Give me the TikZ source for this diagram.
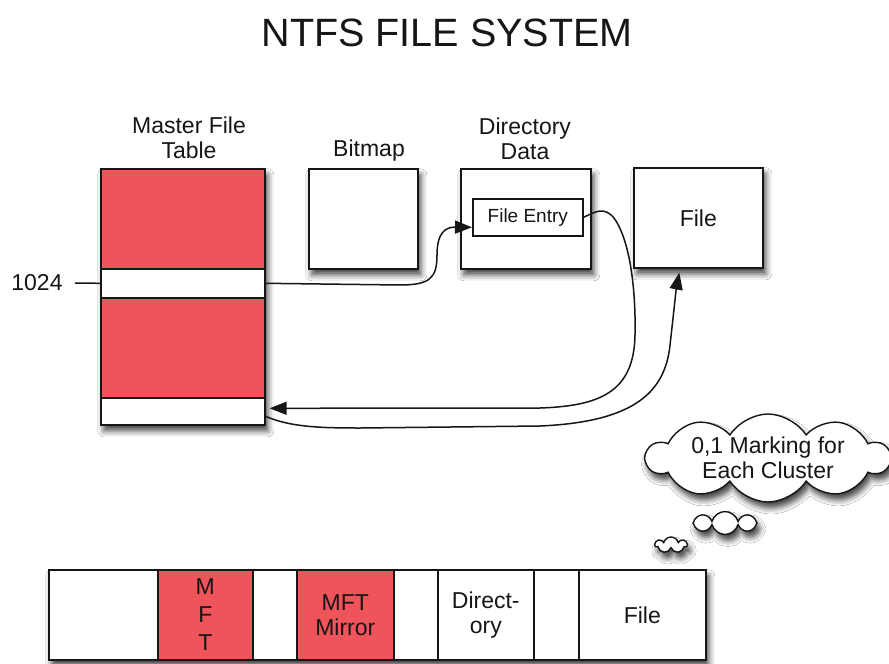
\documentclass[tikz,border=0pt]{standalone}
\usepackage{fontspec}
\setmainfont{Liberation Sans}
\usetikzlibrary{arrows.meta,shapes.symbols,shadows.blur,calc}
\definecolor{mftred}{RGB}{239,84,90}
\definecolor{ink}{RGB}{22,22,22}

\begin{document}
\begin{tikzpicture}[x=1pt,y=-1pt,
  every node/.style={font=\fontsize{23}{25}\selectfont, text=ink},
  box/.style={draw=ink, line width=1.6pt, fill=white, inner sep=0pt, anchor=north west},
  softshadow/.style={blur shadow={shadow xshift=3pt, shadow yshift=-6pt,
      shadow blur radius=6pt, shadow opacity=75}},
  heading/.style={align=center, inner sep=0pt},
  link/.style={draw=ink, line width=1.5pt, -{Triangle[length=17pt,width=13pt]}},
  puff/.style={cloud, draw=ink, line width=1.4pt, fill=white, cloud ignores aspect,
      inner sep=0pt, softshadow}
]
\useasboundingbox[fill=white] (0,0) rectangle (889,664);

% title
\node[font=\fontsize{39.5}{42}\selectfont, inner sep=0pt] (title) at (447,33) {NTFS FILE SYSTEM};

% master file table with its two highlighted records
\node[box, softshadow, fill=mftred, minimum width=164pt, minimum height=256pt] (mft) at (100,168) {};
\node[box, minimum width=164pt, minimum height=29pt] (row1024) at (100,268) {};
\node[box, minimum width=164pt, minimum height=27pt] (rowlast) at (100,397) {};
\node[heading] (mftlbl) at (189,138) {Master File\\Table};
\node[inner sep=0pt] (num) at (37,283) {1024};
\coordinate (tick) at (75,283);
\draw[draw=ink, line width=1.5pt] (tick) -- (row1024.west);

% bitmap
\node[box, softshadow, minimum width=109pt, minimum height=100pt] (bitmap) at (308,168) {};
\node[heading] (bmlbl) at (369,151) {Bitmap};

% directory data with its file entry
\node[box, softshadow, minimum width=130pt, minimum height=100pt] (dir) at (460,168) {};
\node[heading] (dirlbl) at (525,139) {Directory\\Data};
\node[box, minimum width=110pt, minimum height=37pt, font=\fontsize{19}{21}\selectfont] (entry) at (472,198) {File Entry};

% file
\node[box, softshadow, minimum width=129pt, minimum height=100pt] (file) at (633,167) {File};
\coordinate (filein) at ($(file.south)+(-19,4)$);

% connectors
\draw[link] (row1024.east) -- (400,285)
  .. controls (430,285) and (437,278) .. (437,255)
  .. controls (437,232) and (446,227) .. ($(entry.west)+(0,10)$);
\draw[link] (entry.east) .. controls (595,212) and (604,206) .. (614,218)
  .. controls (630,240) and (636,290) .. (635,335)
  .. controls (634,392) and (600,406) .. (540,408) -- ($(rowlast.east)+(4,-3)$);
\draw[link] ($(rowlast.east)+(0,5)$) .. controls (290,427) and (320,428) .. (360,428)
  -- (540,426) .. controls (630,422) and (665,395) .. (670,345)
  .. controls (674,310) and (676,290) .. (filein);

% thought cloud
\node[puff, cloud puffs=10, cloud puff arc=115, minimum width=243pt, minimum height=88pt] (note) at (768,458) {};
\node[heading] (notetext) at (note.center) {0,1 Marking for\\Each Cluster};
\node[puff, cloud puffs=8, minimum width=64pt, minimum height=23pt] (p1) at (725,523) {};
\node[puff, cloud puffs=7, minimum width=32pt, minimum height=16pt] (p2) at (671,545) {};

% volume layout strip
\node[box, softshadow, minimum width=657pt, minimum height=90pt] (disk) at (48,569) {};
\node[box, minimum width=109pt, minimum height=90pt] (c1) at (48,569) {};
\node[box, fill=mftred, minimum width=95pt, minimum height=90pt, align=center,
  font=\fontsize{23}{28}\selectfont] (c2) at (157,569) {M\\F\\T};
\node[box, minimum width=44pt, minimum height=90pt] (c3) at (252,569) {};
\node[box, fill=mftred, minimum width=97pt, minimum height=90pt, align=center] (c4) at (296,569) {MFT\\Mirror};
\node[box, minimum width=44pt, minimum height=90pt] (c5) at (393,569) {};
\node[box, minimum width=96pt, minimum height=90pt, align=center] (c6) at (437,569) {Direct-\\ory};
\node[box, minimum width=45pt, minimum height=90pt] (c7) at (533,569) {};
\node[box, minimum width=127pt, minimum height=90pt] (c8) at (578,569) {File};
\end{tikzpicture}
\end{document}
